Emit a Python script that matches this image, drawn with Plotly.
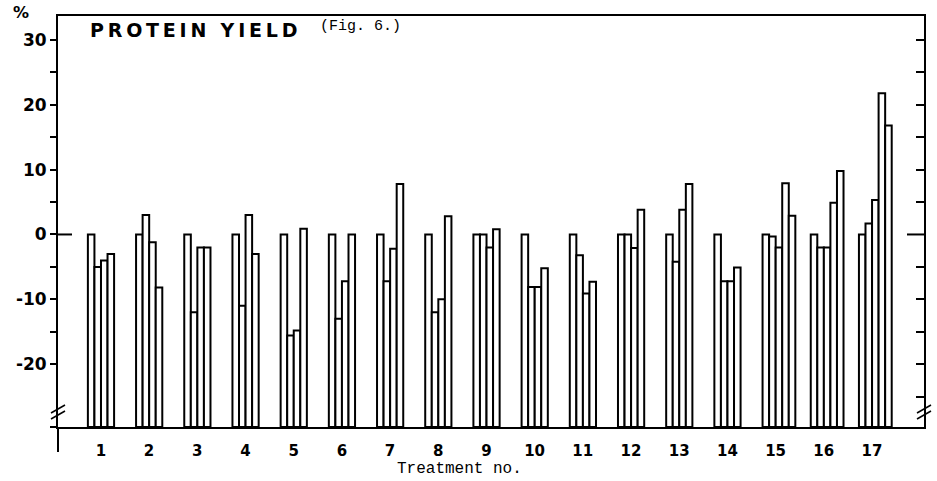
import plotly.graph_objects as go

# ---- data ----
treatments = list(range(1, 18))
tick_labels = [str(t) for t in treatments]
s1 = [0, 0, 0, 0, 0, 0, 0, 0, 0, 0, 0, 0, 0, 0, 0, 0, 0]
s2 = [-5, 3, -12, -11, -15.6, -13, -7.2, -12, 0, -8.1, -3.2, 0, -4.2, -7.2, -0.3, -2, 1.7]
s3 = [-4, -1.2, -2, 3, -14.8, -7.2, -2.2, -10, -2, -8.1, -9.1, -2.1, 3.8, -7.2, -2, -2, 5.3]
s4 = [-3, -8.2, -2, -3, 0.9, 0, 7.8, 2.8, 0.8, -5.2, -7.3, 3.8, 7.8, -5.1, 7.9, 4.9, 21.8]
s5 = [None, None, None, None, None, None, None, None, None, None, None, None, None, None, 2.9, 9.8, 16.8]
series = [s1, s2, s3, s4, s5]

title_text = "PROTEIN YIELD"
x_title = "Treatment no."

y_bottom = -29.7   # broken-axis baseline
y_top = 33.7
x_range = [0.11, 18.08]
bar_w = 0.136
group_start = -0.27

# figure geometry
W, H = 937, 481
ML, MR, MT, MB = 58, 13, 16, 54
PW, PH = W - ML - MR, H - MT - MB

xs, bases, heights = [], [], []
for gi, t in enumerate(treatments):
    k = 0
    for s in series:
        v = s[gi]
        if v is None:
            continue
        xs.append(t + group_start + (k + 0.5) * bar_w)
        bases.append(y_bottom)
        heights.append(v - y_bottom)
        k += 1

fig = go.Figure()
fig.add_trace(go.Bar(
    x=xs, y=heights, base=bases, width=bar_w,
    marker=dict(color="white", line=dict(color="black", width=2)),
    showlegend=False, hoverinfo="skip",
))
# invisible trace for the right-hand axis
fig.add_trace(go.Scatter(x=[1], y=[0], yaxis="y2", mode="markers",
                         marker=dict(opacity=0), showlegend=False, hoverinfo="skip"))

fig.update_layout(
    width=W, height=H,
    margin=dict(l=ML, r=MR, t=MT, b=MB, autoexpand=False),
    paper_bgcolor="white", plot_bgcolor="white",
    barmode="overlay",
    xaxis=dict(
        range=x_range, tickmode="array", tickvals=treatments, ticktext=tick_labels,
        showgrid=False, zeroline=False, showline=True, linecolor="black", linewidth=2,
        mirror=True, ticks="", ticklabelstandoff=9, automargin=False,
        tickfont=dict(family="DejaVu Sans", size=15, color="black", weight="bold"),
    ),
    yaxis=dict(
        range=[y_bottom, y_top], tickmode="array",
        tickvals=[-20, -10, 0, 10, 20, 30],
        ticktext=["-20", "-10", "0", "10", "20", "30"],
        showgrid=False, zeroline=False, showline=True, linecolor="black", linewidth=2,
        ticks="outside", ticklen=6, tickwidth=2, tickcolor="black", automargin=False,
        tickfont=dict(family="DejaVu Sans", size=17, color="black", weight="bold"),
        minor=dict(tickmode="array", tickvals=[-15, -5, 5, 15, 25], ticks="outside",
                   ticklen=6, tickwidth=2, tickcolor="black", showgrid=False),
    ),
    yaxis2=dict(
        range=[y_bottom, y_top], overlaying="y", side="right", anchor="x",
        tickmode="array", tickvals=[-25, -20, -15, -10, -5, 5, 10, 15, 20, 25, 30],
        showticklabels=False, ticks="inside", ticklen=8, tickwidth=2, tickcolor="black",
        showline=True, linecolor="black", linewidth=2, showgrid=False, zeroline=False,
        automargin=False,
    ),
)

def px_x(p):
    return (p - ML) / PW

def px_y(p):
    return (MT + PH - p) / PH

shapes = []
# left axis extends below the baseline
shapes.append(dict(type="line", xref="paper", yref="paper", x0=0, x1=0,
                   y0=0, y1=px_y(452), line=dict(color="black", width=2)))
# baseline continues a little left of the axis
shapes.append(dict(type="line", xref="paper", yref="paper", x0=px_x(50), x1=0,
                   y0=0, y1=0, line=dict(color="black", width=2)))
# zero cross tick on the left and long zero tick on the right
shapes.append(dict(type="line", xref="paper", yref="y", x0=0, x1=px_x(72),
                   y0=0, y1=0, line=dict(color="black", width=2)))
shapes.append(dict(type="line", xref="paper", yref="y", x0=px_x(907), x1=1,
                   y0=0, y1=0, line=dict(color="black", width=2)))
# break marks on both axes
for ax_px in (ML, W - MR):
    for dy in (-3, 3):
        shapes.append(dict(type="line", xref="paper", yref="paper",
                           x0=px_x(ax_px - 7), y0=px_y(416 + dy),
                           x1=px_x(ax_px + 7), y1=px_y(408 + dy),
                           line=dict(color="black", width=1.5)))
fig.update_layout(shapes=shapes)

spaced_title = "\u2009".join(title_text)
fig.add_annotation(text=spaced_title, xref="paper", yref="paper",
                   x=px_x(88), y=px_y(30), xanchor="left", yanchor="middle", showarrow=False,
                   font=dict(family="DejaVu Sans", size=19, color="black", weight="bold"))
fig.add_annotation(text="(Fig. 6.)", xref="paper", yref="paper",
                   x=px_x(318), y=px_y(27), xanchor="left", yanchor="middle", showarrow=False,
                   font=dict(family="Liberation Mono", size=15, color="black"))
fig.add_annotation(text="%", xref="paper", yref="paper",
                   x=px_x(21), y=px_y(13), xanchor="center", yanchor="middle", showarrow=False,
                   font=dict(family="DejaVu Sans", size=16, color="black", weight="bold"))
fig.add_annotation(text=x_title, xref="paper", yref="paper",
                   x=px_x(459), y=px_y(469), xanchor="center", yanchor="middle", showarrow=False,
                   font=dict(family="Liberation Mono", size=16, color="black"))

fig.write_html("out.html")
